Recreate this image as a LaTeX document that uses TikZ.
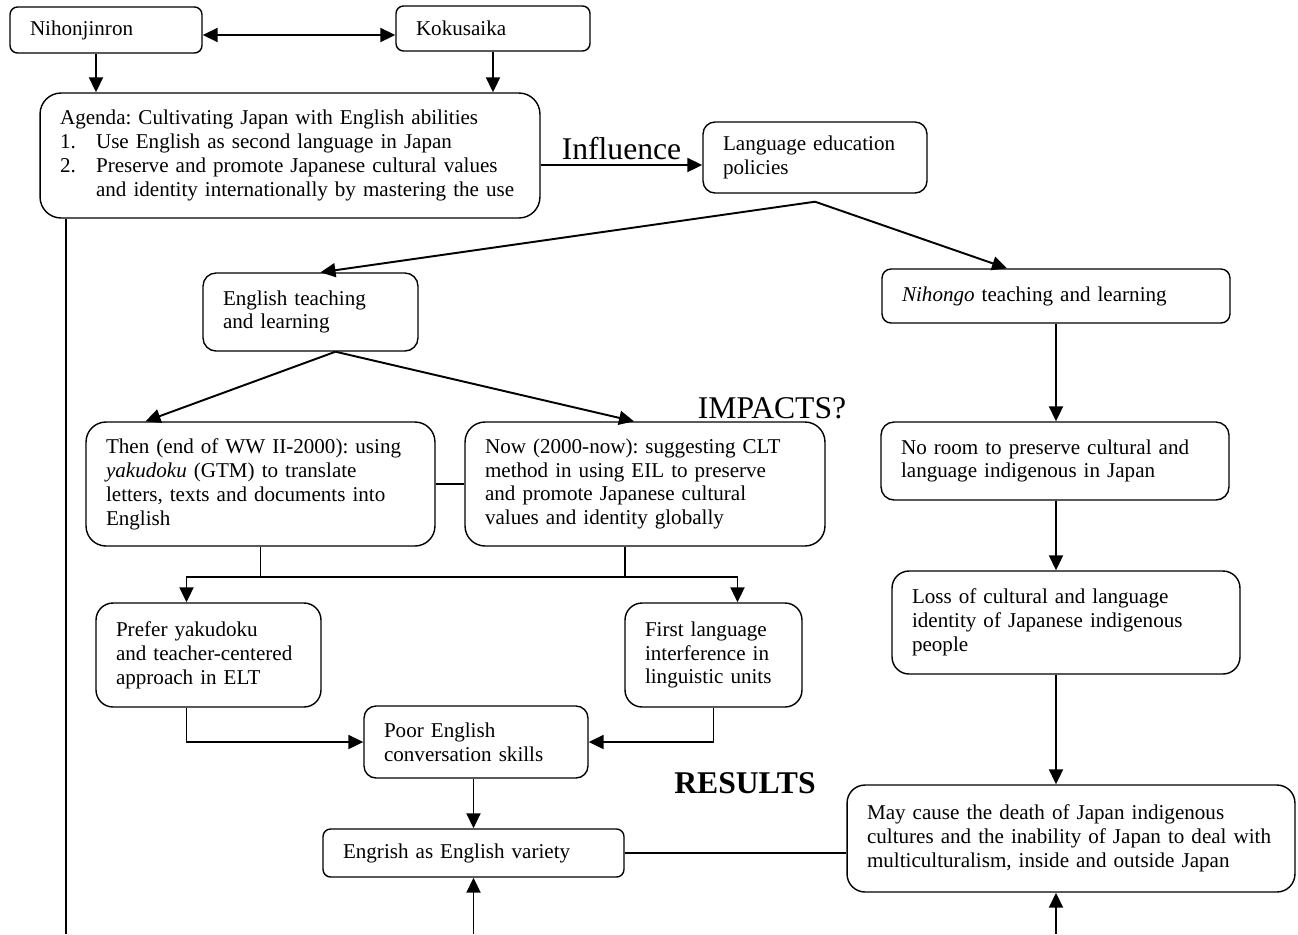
\documentclass[tikz,border=0pt]{standalone}
\usepackage{fontspec}
\setmainfont{Liberation Serif}
\usetikzlibrary{arrows.meta}
\frenchspacing

\tikzset{
	box/.style={draw, line width=0.8pt, rounded corners=#1, align=left, inner xsep=0.4cm, inner ysep=0pt},
	box/.default=0.2cm,
	arr/.style={-{Triangle[length=0.3cm, width=0.28cm]}, line width=1.1pt},
	twoway/.style={{Triangle[length=0.3cm, width=0.28cm]}-{Triangle[length=0.3cm, width=0.28cm]}, line width=1.1pt},
	link/.style={line width=1.1pt},
	bigtext/.style={font=\fontsize{18}{21}\selectfont}
}

\begin{document}
\begin{tikzpicture}[x=0.02cm, y=-0.02cm, font=\fontsize{12}{13.6}\selectfont, line join=miter]
	\useasboundingbox (0,0) rectangle (1298,934);

	% Top row
	\node[box=0.15cm, text width=3.04cm, minimum height=0.92cm] (nihon) at (106, 30) {Nihonjinron};
	\node[box=0.15cm, text width=3.08cm, minimum height=0.9cm] (koku) at (493, 28.5) {Kokusaika};
	\node[box=0.42cm, text width=9.2cm, minimum height=2.5cm] (agenda) at (290, 155.5) {Agenda: Cultivating Japan with English abilities\\
		\makebox[0.72cm][l]{1.}Use English as second language in Japan\\
		\makebox[0.72cm][l]{2.}Preserve and promote Japanese cultural values\\
		\hspace*{0.72cm}and identity internationally by mastering the use};
	\node[box=0.24cm, text width=3.68cm, minimum height=1.42cm] (policy) at (815, 157.5) {Language education\\policies};

	% English side
	\node[box=0.26cm, text width=3.5cm, minimum height=1.56cm] (english) at (310.5, 312) {English teaching\\and learning};
	\node[box=0.4cm, text width=6.18cm, minimum height=2.48cm] (then) at (260.5, 484) {Then (end of WW II-2000): using\\\textit{yakudoku} (GTM) to translate\\letters, texts and documents into\\English};
	\node[box=0.4cm, text width=6.4cm, minimum height=2.48cm] (now) at (645, 484) {Now (2000-now): suggesting CLT\\method in using EIL to preserve\\and promote Japanese cultural\\values and identity globally};
	\node[box=0.34cm, text width=3.7cm, minimum height=2.08cm] (prefer) at (208.5, 655) {Prefer yakudoku\\and teacher-centered\\approach in ELT};
	\node[box=0.34cm, text width=2.74cm, minimum height=2.08cm] (first) at (713.5, 655) {First language\\interference in\\linguistic units};
	\node[box=0.24cm, text width=3.68cm, minimum height=1.44cm] (poor) at (476, 742) {Poor English\\conversation skills};
	\node[box=0.15cm, text width=5.22cm, minimum height=0.96cm] (engrish) at (473.5, 853) {Engrish as English variety};

	% Nihongo side
	\node[box=0.18cm, text width=6.16cm, minimum height=1.08cm] (nihongo) at (1056, 296) {\textit{Nihongo} teaching and learning};
	\node[box=0.26cm, text width=6.16cm, minimum height=1.56cm] (noroom) at (1055, 461) {No room to preserve cultural and\\language indigenous in Japan};
	\node[box=0.34cm, text width=6.16cm, minimum height=2.06cm] (loss) at (1066, 622.5) {Loss of cultural and language\\identity of Japanese indigenous\\people};
	\node[box=0.36cm, text width=8.16cm, minimum height=2.14cm] (death) at (1071, 838.5) {May cause the death of Japan indigenous\\cultures and the inability of Japan to deal with\\multiculturalism, inside and outside Japan};

	\node[bigtext] (impacts) at (772, 408) {IMPACTS?};
	\node[bigtext, font=\fontsize{18}{21}\selectfont\bfseries] (results) at (745, 783) {RESULTS};

	% Connectors
	\coordinate (nk) at ([yshift=-0.1cm]nihon.east);
	\draw[twoway] (nk) -- (nk -| koku.west);
	\coordinate (na) at ([xshift=-0.2cm]nihon.south);
	\draw[arr] (na) -- (na |- agenda.north);
	\draw[arr] (koku.south) -- (koku.south |- agenda.north);
	\coordinate (inf) at ([yshift=-0.15cm]policy.west);
	\draw[arr] (agenda.east |- inf) -- (inf) node[midway, above, bigtext, inner sep=0.08cm] {Influence};

	\coordinate (fork) at ([yshift=-0.16cm]policy.south);
	\draw[arr] (fork) -- ([xshift=0.2cm]english.north);
	\draw[arr] (fork) -- ([xshift=-0.98cm]nihongo.north);
	\draw[arr] ([xshift=0.5cm]english.south) -- ([xshift=-2.3cm]then.north);
	\draw[arr] ([xshift=0.5cm]english.south) -- ([xshift=-0.22cm]now.north);
	\draw[link] (then.east) -- (now.west);

	\coordinate (bus) at (460, 577);
	\coordinate (pl) at ([xshift=-0.44cm]prefer.north);
	\coordinate (fl) at ([xshift=0.48cm]first.north);
	\draw[link] (then.south) -- (then.south |- bus);
	\draw[link] ([xshift=-0.4cm]now.south) -- ([xshift=-0.4cm]now.south |- bus);
	\draw[twoway] (pl) -- (pl |- bus) -- (fl |- bus) -- (fl);
	\draw[arr] ([xshift=-0.44cm]prefer.south) |- (poor.west);
	\draw[arr] (first.south) |- (poor.east);
	\draw[arr] (engrish.north |- poor.south) -- (engrish.north);
	\draw[link] (engrish.east) -- (engrish.east -| death.west);
	\draw[arr] (engrish.south |- 0,934) -- (engrish.south);

	\draw[arr] (nihongo.south) -- (nihongo.south |- noroom.north);
	\draw[arr] (nihongo.south |- noroom.south) -- (nihongo.south |- loss.north);
	\draw[arr] (nihongo.south |- loss.south) -- (nihongo.south |- death.north);
	\draw[arr] (nihongo.south |- 0,934) -- (nihongo.south |- death.south);

	\draw[link] ([xshift=0.54cm]agenda.south west) -- ([xshift=0.54cm]agenda.south west |- 0,934);
\end{tikzpicture}
\end{document}
